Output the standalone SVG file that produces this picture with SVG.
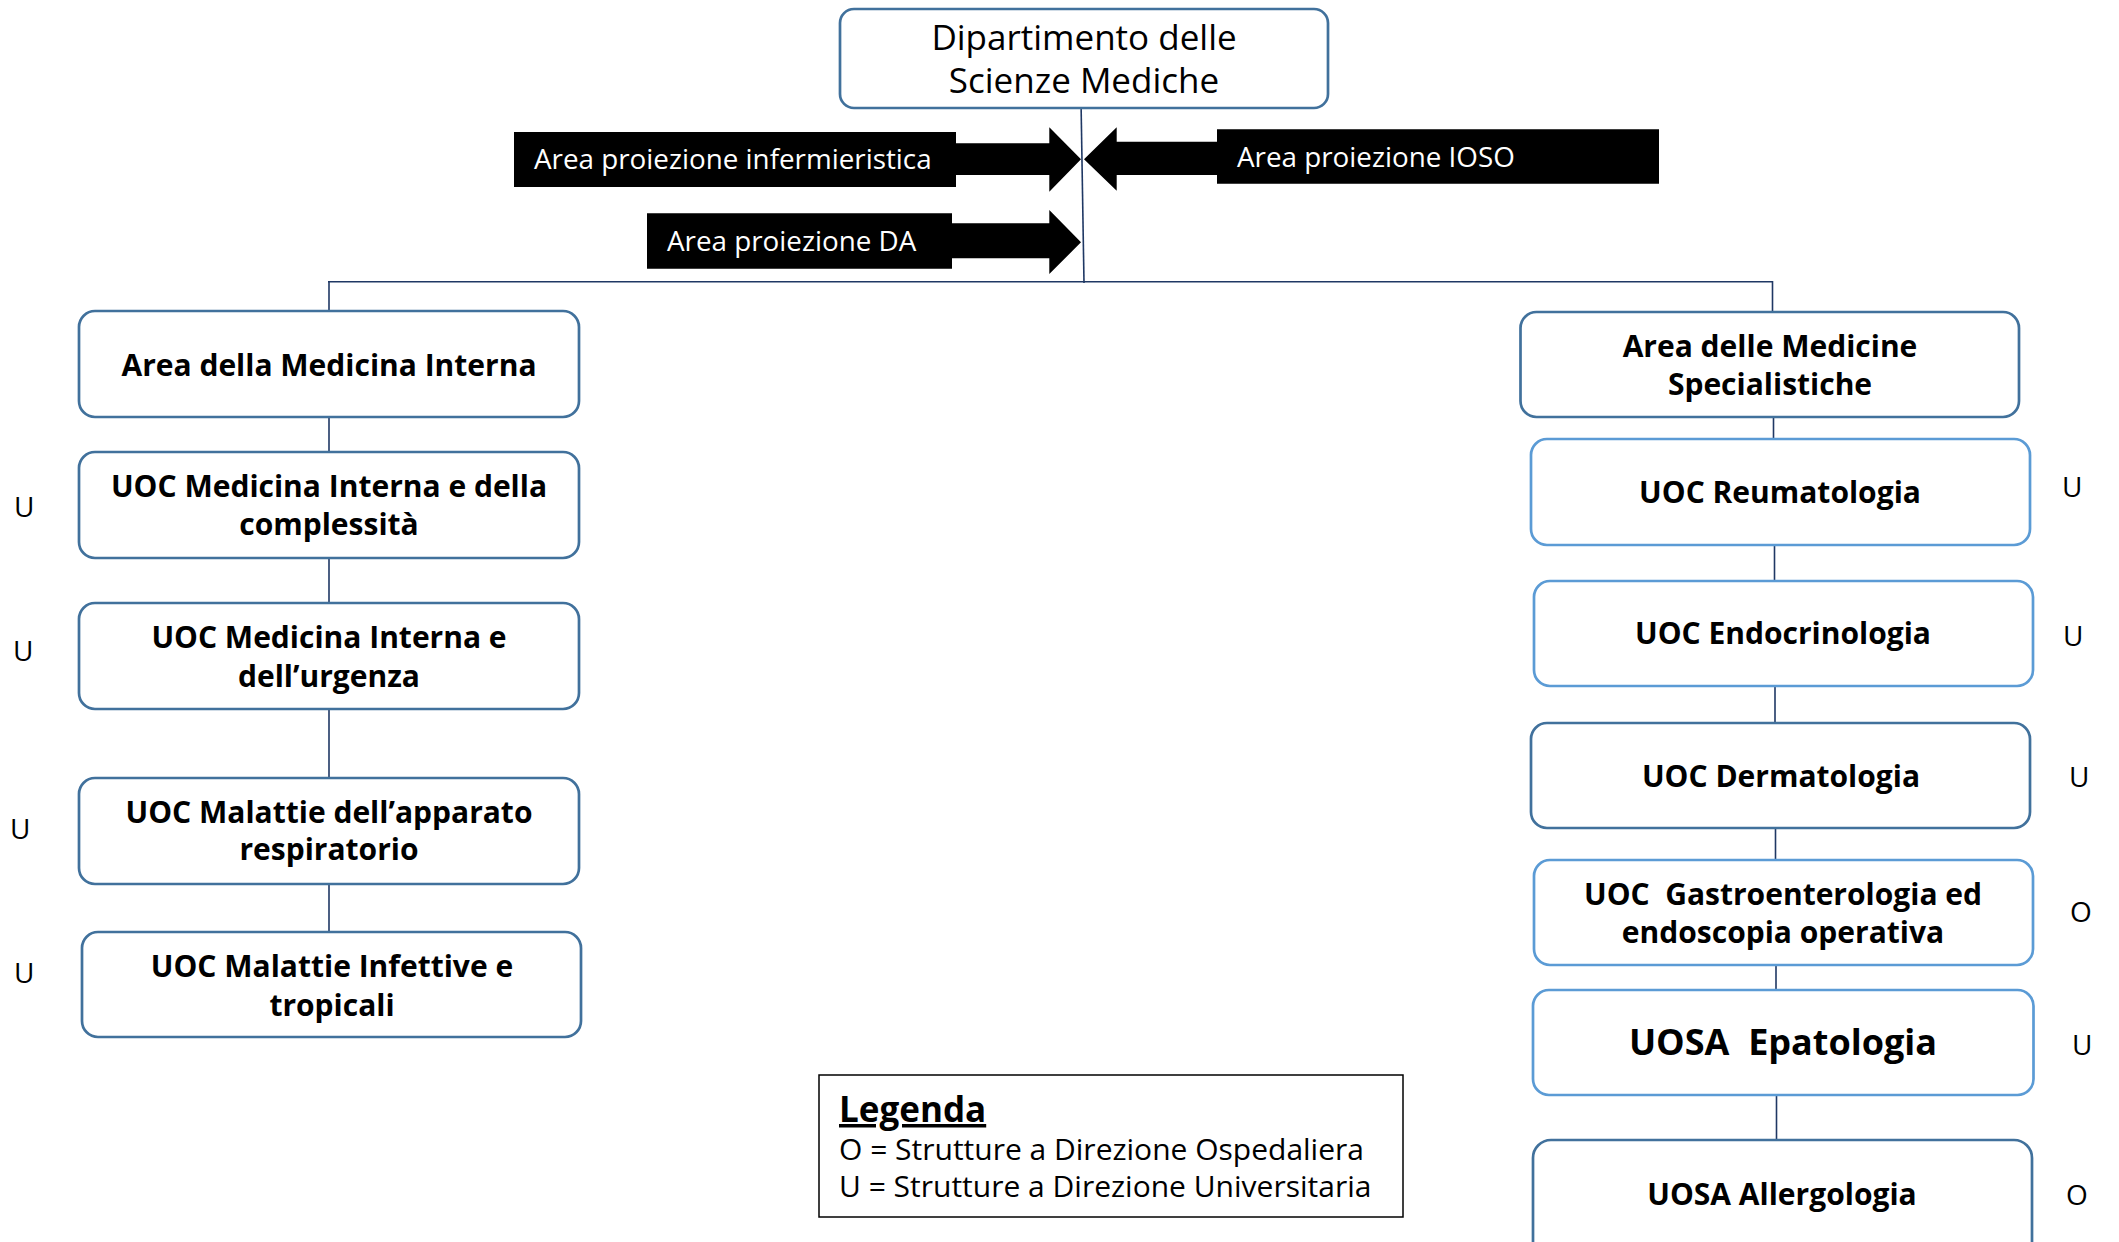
<svg xmlns="http://www.w3.org/2000/svg" width="2119" height="1242" viewBox="0 0 2119 1242">
<style>
.box{fill:#fff;stroke:#41719C;stroke-width:2.7}
.lbox{fill:#fff;stroke:#5B9BD5;stroke-width:2.7}
.t{font-family:"Open Sans","Noto Sans","DejaVu Sans",sans-serif;font-weight:bold;font-size:30px;fill:#000;text-anchor:middle}
.r{font-family:"Open Sans","Noto Sans","DejaVu Sans",sans-serif;font-size:28px;fill:#000}
.w{font-family:"Open Sans","Noto Sans","DejaVu Sans",sans-serif;font-size:27.8px;fill:#fff}
.c{fill:none;stroke:#1F3864;stroke-width:1.6}
</style>
<rect width="2119" height="1242" fill="#fff"/>
<g id="connectors">
<line class="c" x1="1081" y1="100" x2="1084" y2="283"/>
<line class="c" x1="328" y1="281.7" x2="1773" y2="281.7"/>
<line class="c" x1="329" y1="281" x2="329" y2="311"/>
<line class="c" x1="329" y1="417" x2="329" y2="452"/>
<line class="c" x1="329" y1="558" x2="329" y2="603"/>
<line class="c" x1="329" y1="709" x2="329" y2="778"/>
<line class="c" x1="329" y1="884" x2="329" y2="932"/>
<line class="c" x1="1772.5" y1="281" x2="1772.5" y2="312"/>
<line class="c" x1="1773.5" y1="417" x2="1773.5" y2="439"/>
<line class="c" x1="1774.5" y1="545" x2="1774.5" y2="581"/>
<line class="c" x1="1775" y1="686" x2="1775" y2="723"/>
<line class="c" x1="1775.5" y1="828" x2="1775.5" y2="860"/>
<line class="c" x1="1776" y1="965" x2="1776" y2="990"/>
<line class="c" x1="1776.5" y1="1095" x2="1776.5" y2="1140"/>
</g>
<g id="dipartimento">
<rect x="840" y="9" width="488" height="99" rx="14" class="box"/>
<text class="r" x="1084" y="50" style="font-size:35px;text-anchor:middle">Dipartimento delle</text>
<text class="r" x="1084" y="93" style="font-size:35px;text-anchor:middle">Scienze Mediche</text>
</g>
<g id="area-infermieristica">
<path d="M514 132H956V143.3H1049.3V127.3L1081 159.3L1049.3 191.7V175H956V187H514Z" fill="#000"/>
<text class="w" x="534" y="169">Area proiezione infermieristica</text>
</g>
<g id="area-ioso">
<path d="M1659 129.3H1217V141.7H1116.7V127.3L1084 159.3L1116.7 190.7V175H1217V183.7H1659Z" fill="#000"/>
<text class="w" x="1237" y="167">Area proiezione IOSO</text>
</g>
<g id="area-da">
<path d="M647 213.3H952V223.3H1049.3V210L1081 242.3L1049.3 274V258.3H952V268.7H647Z" fill="#000"/>
<text class="w" x="667" y="251">Area proiezione DA</text>
</g>
<g id="area-medicina-interna">
<rect x="79" y="311" width="500" height="106" rx="16" class="box"/>
<text class="t" x="329" y="376">Area della Medicina Interna</text>
</g>
<g id="uoc-medicina-complessita">
<rect x="79" y="452" width="500" height="106" rx="16" class="box"/>
<text class="t" x="329" y="497">UOC Medicina Interna e della</text>
<text class="t" x="329" y="535">complessità</text>
<text class="r" x="14" y="517">U</text>
</g>
<g id="uoc-medicina-urgenza">
<rect x="79" y="603" width="500" height="106" rx="16" class="box"/>
<text class="t" x="329" y="648">UOC Medicina Interna e</text>
<text class="t" x="329" y="687">dell’urgenza</text>
<text class="r" x="13" y="661">U</text>
</g>
<g id="uoc-respiratorio">
<rect x="79" y="778" width="500" height="106" rx="16" class="box"/>
<text class="t" x="329" y="823">UOC Malattie dell’apparato</text>
<text class="t" x="329" y="860">respiratorio</text>
<text class="r" x="10" y="839">U</text>
</g>
<g id="uoc-infettive">
<rect x="82" y="932" width="499" height="105" rx="16" class="box"/>
<text class="t" x="332" y="977">UOC Malattie Infettive e</text>
<text class="t" x="332" y="1016">tropicali</text>
<text class="r" x="14" y="983">U</text>
</g>
<g id="area-specialistiche">
<rect x="1520.5" y="312" width="498.5" height="105" rx="16" class="box"/>
<text class="t" x="1770" y="357">Area delle Medicine</text>
<text class="t" x="1770" y="395">Specialistiche</text>
</g>
<g id="uoc-reumatologia">
<rect x="1531" y="439" width="499" height="106" rx="16" class="lbox"/>
<text class="t" x="1780" y="503">UOC Reumatologia</text>
<text class="r" x="2062" y="497">U</text>
</g>
<g id="uoc-endocrinologia">
<rect x="1534" y="581" width="499" height="105" rx="16" class="lbox"/>
<text class="t" x="1783" y="644">UOC Endocrinologia</text>
<text class="r" x="2063" y="646">U</text>
</g>
<g id="uoc-dermatologia">
<rect x="1531" y="723" width="499" height="105" rx="16" class="box"/>
<text class="t" x="1781" y="787">UOC Dermatologia</text>
<text class="r" x="2069" y="787">U</text>
</g>
<g id="uoc-gastroenterologia">
<rect x="1534" y="860" width="499" height="105" rx="16" class="lbox"/>
<text class="t" x="1783" y="905" xml:space="preserve">UOC  Gastroenterologia ed</text>
<text class="t" x="1783" y="943">endoscopia operativa</text>
<text class="r" x="2070" y="922">O</text>
</g>
<g id="uosa-epatologia">
<rect x="1533" y="990" width="500.5" height="105" rx="16" class="lbox"/>
<text class="t" x="1783" y="1055" style="font-size:36px" xml:space="preserve">UOSA  Epatologia</text>
<text class="r" x="2072" y="1055">U</text>
</g>
<g id="uosa-allergologia">
<rect x="1533" y="1140" width="499" height="130" rx="18" class="box"/>
<text class="t" x="1782" y="1205">UOSA Allergologia</text>
<text class="r" x="2066" y="1205">O</text>
</g>
<g id="legenda">
<rect x="819" y="1075" width="584" height="142" fill="#fff" stroke="#000" stroke-width="1.5"/>
<text class="r" x="839" y="1122" style="font-size:35px;font-weight:bold;text-decoration:underline">Legenda</text>
<text class="r" x="839" y="1160" style="font-size:30px">O = Strutture a Direzione Ospedaliera</text>
<text class="r" x="839" y="1197" style="font-size:30px">U = Strutture a Direzione Universitaria</text>
</g>
</svg>
